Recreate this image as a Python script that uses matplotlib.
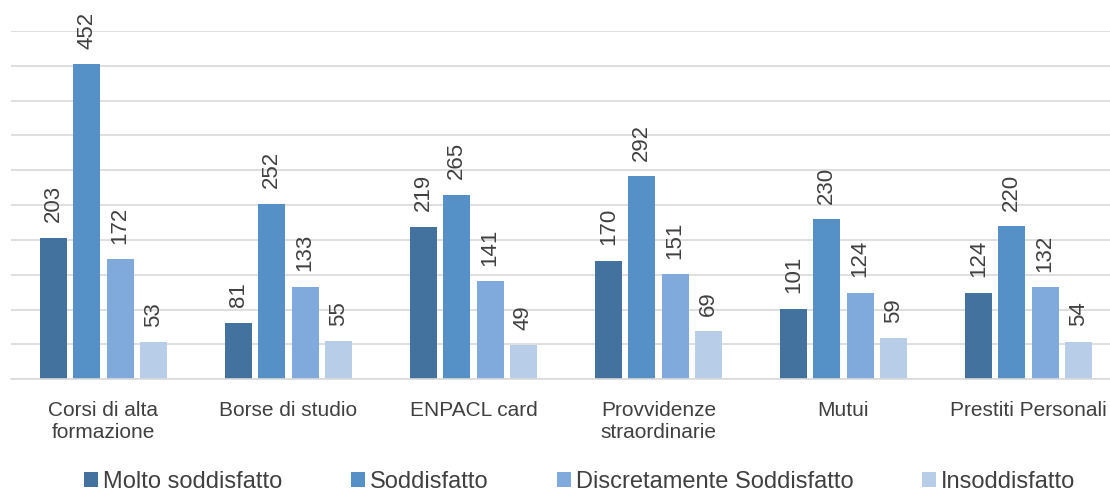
import matplotlib
matplotlib.use("Agg")
import matplotlib.pyplot as plt
import numpy as np

plt.rcParams["font.family"] = ["Liberation Sans", "DejaVu Sans"]

categories = ["Corsi di alta\nformazione", "Borse di studio", "ENPACL card",
              "Provvidenze\nstraordinarie", "Mutui", "Prestiti Personali"]
series_names = ["Molto soddisfatto", "Soddisfatto",
                "Discretamente Soddisfatto", "Insoddisfatto"]
molto = [203, 81, 219, 170, 101, 124]
soddisfatto = [452, 252, 265, 292, 230, 220]
discreto = [172, 133, 141, 151, 124, 132]
insodd = [53, 55, 49, 69, 59, 54]

colors = ["#44729f", "#5591c7", "#80aadb", "#b8cde8"]
TXT = "#404040"

fig = plt.figure(figsize=(11.1, 4.93), dpi=100)
# plot area runs a little past the right edge (cropped like the original)
ax = fig.add_axes([0.0099, 0.231, 1.0, 0.706])

x = np.arange(len(categories))
w = 0.146
step = 0.18
for i, (vals, name, c) in enumerate(zip([molto, soddisfatto, discreto, insodd],
                                        series_names, colors)):
    pos = x + (i - 1.5) * step
    bars = ax.bar(pos, vals, width=w, color=c, label=name, zorder=2)
    for b, v in zip(bars, vals):
        ax.text(b.get_x() + b.get_width() / 2, v + 22, str(v), rotation=90,
                ha="center", va="bottom", fontsize=16, color=TXT)

ax.set_xlim(-0.5, len(categories) - 0.5)
ax.set_ylim(0, 500)
ax.set_yticks(np.arange(0, 501, 50))
ax.yaxis.grid(True, color="#d9d9d9", lw=1.2, zorder=0)
ax.tick_params(axis="y", left=False, labelleft=False)
ax.tick_params(axis="x", bottom=False, labelsize=15, colors=TXT, pad=12)
ax.set_xticks(x)
ax.set_xticklabels(categories, linespacing=1.25)
for s in ["top", "right", "left"]:
    ax.spines[s].set_visible(False)
ax.spines["bottom"].set_color("#d9d9d9")
ax.spines["bottom"].set_linewidth(1.2)

handles, labels = ax.get_legend_handles_labels()
fig.legend(handles, labels, loc="center", bbox_to_anchor=(0.522, 0.022), ncol=4,
           frameon=False, fontsize=17, labelcolor=TXT, handlelength=0.6,
           handleheight=0.6, handletextpad=0.2, columnspacing=2.9)

fig.savefig("out.png", dpi=100, facecolor="white")
